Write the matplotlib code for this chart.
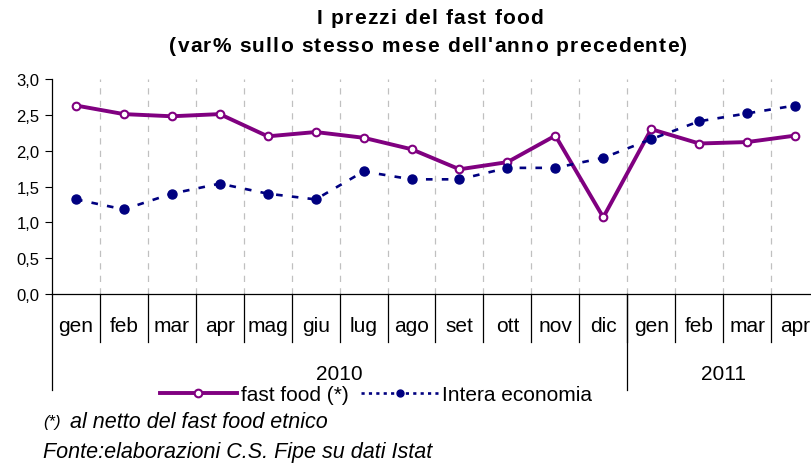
import numpy as np
import matplotlib.pyplot as plt
import matplotlib.transforms as mtransforms
from matplotlib.lines import Line2D
from matplotlib.font_manager import FontProperties

# data
months = ["gen", "feb", "mar", "apr", "mag", "giu", "lug", "ago", "set", "ott", "nov", "dic",
          "gen", "feb", "mar", "apr"]
years = ["2010", "2011"]
year_span = [12, 4]
fast_food = [2.63, 2.51, 2.48, 2.51, 2.20, 2.26, 2.18, 2.02, 1.74, 1.84, 2.21, 1.07,
             2.30, 2.10, 2.12, 2.21]
intera = [1.32, 1.18, 1.40, 1.54, 1.40, 1.32, 1.71, 1.60, 1.60, 1.76, 1.76, 1.90,
          2.16, 2.41, 2.52, 2.63]
yticks = [0.0, 0.5, 1.0, 1.5, 2.0, 2.5, 3.0]

plt.rcParams['font.family'] = ["Liberation Sans", "DejaVu Sans"]

purple = "#800080"
navy = "#000080"
W, H = 812, 464

fig = plt.figure(figsize=(8.12, 4.64), dpi=100)
ax = fig.add_axes([52 / W, 1 - 295 / H, 767 / W, 215 / H])

x = np.arange(len(months))
ax.plot(x, fast_food, color=purple, lw=2.8, marker="o", ms=5.5, mfc="white",
        mec=purple, mew=1.5, zorder=3)
ax.plot(x, intera, color=navy, lw=1.9, ls=(0, (2.5, 3.5)), marker="o", ms=6.5,
        mfc=navy, mec=navy, zorder=3)

ax.set_xlim(-0.5, len(months) - 0.5)
ax.set_ylim(0, 3)
ax.set_yticks(yticks)
ax.set_yticklabels([f"{v:.1f}".replace(".", ",") for v in yticks], fontsize=12)
ax.tick_params(axis="y", length=5, width=0.8, pad=4)
ax.set_xticks([])
for b in np.arange(0.5, len(months) - 0.5, 1):
    ax.axvline(b, color="#c0c0c0", lw=0.9, ls=(0, (5, 5)), zorder=1)
for s in ["top", "right"]:
    ax.spines[s].set_visible(False)
ax.spines["left"].set_linewidth(0.9)
ax.spines["bottom"].set_linewidth(0.9)

# two-level category axis
tr = mtransforms.blended_transform_factory(ax.transData, fig.transFigure)
y_axis = 1 - 295 / H
y_month = 1 - 343 / H
y_year = 1 - 391 / H
for b in np.arange(0.5, len(months) - 0.5, 1):
    ax.plot([b, b], [y_axis, y_month], transform=tr, color="black", lw=0.9, clip_on=False)
start = -0.5
bounds = [start]
for n in year_span:
    start += n
    bounds.append(start)
for b in bounds:
    ax.plot([b, b], [y_axis, y_year], transform=tr, color="black", lw=0.9, clip_on=False)
for i, m in enumerate(months):
    ax.text(i, 1 - 327 / H, m, transform=tr, ha="center", va="center", fontsize=15)
for i, yr in enumerate(years):
    ax.text((bounds[i] + bounds[i + 1]) / 2, 1 - 375 / H, yr, transform=tr,
            ha="center", va="center", fontsize=15)

# title with wide letter spacing
renderer = fig.canvas.get_renderer()
fp = FontProperties(family="Liberation Sans", weight="bold", size=15)


def spaced_text(s, xc, yc, track):
    ref = renderer.get_text_width_height_descent("I", fp, ismath=False)[0]
    offs = [renderer.get_text_width_height_descent(s[:i] + "I", fp, ismath=False)[0] - ref
            for i in range(len(s))]
    total = renderer.get_text_width_height_descent(s, fp, ismath=False)[0] + track * (len(s) - 1)
    x0 = xc - total / 2
    for i, ch in enumerate(s):
        if ch != " ":
            fig.text((x0 + offs[i] + i * track) / W, 1 - yc / H, ch, fontproperties=fp,
                     ha="left", va="center")


spaced_text("I prezzi del fast food", 430, 19, 1.2)
spaced_text("(var% sullo stesso mese dell'anno precedente)", 428, 46, 1.2)

handles = [Line2D([], [], color=purple, lw=2.8, marker="o", ms=5.5, mfc="white",
                  mec=purple, mew=1.5),
           Line2D([], [], color=navy, lw=1.9, ls=(0, (1.2, 1.6)), marker="o", ms=5,
                  mfc=navy, mec=navy)]
fig.legend(handles, ["fast food (*)", "Intera economia"], loc="center",
           bbox_to_anchor=(376 / W, 1 - 396 / H), ncol=2, frameon=False,
           handlelength=3.7, handletextpad=0.2, columnspacing=0.6, borderpad=0,
           prop={"size": 15})

fig.text(43 / W, 1 - 423 / H, "(*)", ha="left", va="center", fontsize=12, style="italic")
fig.text(70 / W, 1 - 423 / H, "al netto del fast food etnico", ha="left",
         va="center", fontsize=15.5, style="italic")
fig.text(43 / W, 1 - 453 / H, "Fonte:elaborazioni C.S. Fipe su dati Istat", ha="left",
         va="center", fontsize=15.5, style="italic")

fig.savefig("out.png", dpi=100)
